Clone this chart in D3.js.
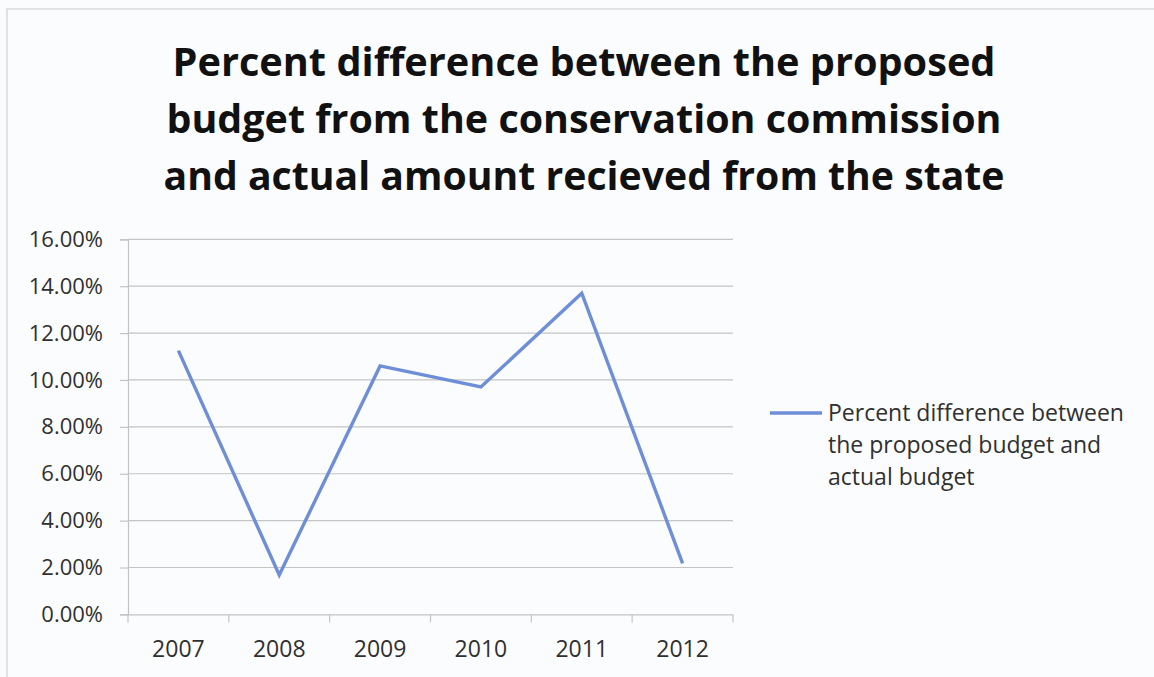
<!DOCTYPE html>
<html>
<head>
<meta charset="utf-8">
<script src="https://cdn.jsdelivr.net/npm/d3@7"></script>
<style>
  html, body { margin: 0; padding: 0; background: #ffffff; }
  svg { display: block; }
</style>
</head>
<body>
<svg id="chart" width="1154" height="677"></svg>
<script>
// Budget gap between the commission's proposal and the state allocation
const years = ["2007", "2008", "2009", "2010", "2011", "2012"];
const percentDiff = [0.1125, 0.0168, 0.106, 0.097, 0.137, 0.0218];
const yTicks = [0, 0.02, 0.04, 0.06, 0.08, 0.10, 0.12, 0.14, 0.16];
const titleLines = [
  "Percent difference between the proposed",
  "budget from the conservation commission",
  "and actual amount recieved from the state"
];
const legendLines = [
  "Percent difference between",
  "the proposed budget and",
  "actual budget"
];

const W = 1154, H = 677;
const margin = { left: 128, right: 733, top: 239.3, bottom: 614.4 };
const lineColor = "#6f8ed8";
const textColor = "#303030";
const font = "'Open Sans', 'Noto Sans', sans-serif";

const svg = d3.select("#chart");

// Chart area background and frame
svg.append("rect").attr("x", 0).attr("y", 0).attr("width", W).attr("height", H).attr("fill", "#fbfcfd");
svg.append("path")
  .attr("d", `M7,${H} L7,9 L${W},9`)
  .attr("fill", "none").attr("stroke", "#d9d9d9").attr("stroke-width", 1.5);

// Title (condensed to the width of a narrow bold face)
svg.append("g").selectAll("text").data(titleLines).join("text")
  .attr("x", 584)
  .attr("y", (d, i) => 76 + i * 57)
  .attr("text-anchor", "middle")
  .attr("font-family", font)
  .attr("font-weight", 700)
  .attr("font-size", 40)
  .attr("fill", "#111")
  .attr("textLength", (d, i) => [823, 835, 841][i])
  .attr("lengthAdjust", "spacingAndGlyphs")
  .text(d => d);

// Scales
const x = d3.scaleBand().domain(years).range([margin.left, margin.right]);
const y = d3.scaleLinear().domain([0, 0.16]).range([margin.bottom, margin.top]);

// Horizontal gridlines
svg.append("g").selectAll("line").data(yTicks.filter(t => t > 0)).join("line")
  .attr("x1", margin.left).attr("x2", margin.right)
  .attr("y1", d => y(d)).attr("y2", d => y(d))
  .attr("stroke", "#c4c4c4").attr("stroke-width", 1.2);

// Y axis
const yAxis = svg.append("g")
  .attr("transform", `translate(${margin.left},0)`)
  .call(d3.axisLeft(y).tickValues(yTicks).tickFormat(d3.format(".2%")).tickSize(8).tickPadding(17));
yAxis.select(".domain").attr("stroke", "#c4c4c4").attr("stroke-width", 1.2);
yAxis.selectAll(".tick line").attr("stroke", "#c4c4c4").attr("stroke-width", 1.2);
yAxis.selectAll(".tick text")
  .attr("font-family", font).attr("font-size", 22).attr("fill", textColor);

// X axis with tick marks on category boundaries
const xAxis = svg.append("g")
  .attr("transform", `translate(0,${margin.bottom})`)
  .call(d3.axisBottom(x).tickSize(0).tickPadding(26));
xAxis.select(".domain").attr("stroke", "#c4c4c4").attr("stroke-width", 1.2);
xAxis.selectAll(".tick text")
  .attr("font-family", font).attr("font-size", 23).attr("fill", textColor);
xAxis.selectAll("line.boundary").data(years.concat(["end"])).join("line")
  .attr("class", "boundary")
  .attr("x1", (d, i) => margin.left + i * x.step())
  .attr("x2", (d, i) => margin.left + i * x.step())
  .attr("y1", 0).attr("y2", 8)
  .attr("stroke", "#c4c4c4").attr("stroke-width", 1.2);

// Data line
const line = d3.line()
  .x((d, i) => x(years[i]) + x.bandwidth() / 2)
  .y(d => y(d));
svg.append("path")
  .datum(percentDiff)
  .attr("d", line)
  .attr("fill", "none")
  .attr("stroke", lineColor)
  .attr("stroke-width", 3.4)
  .attr("stroke-linejoin", "miter");

// Legend
const legend = svg.append("g");
legend.append("line")
  .attr("x1", 770).attr("x2", 822).attr("y1", 413).attr("y2", 413)
  .attr("stroke", lineColor).attr("stroke-width", 3.4);
legend.selectAll("text").data(legendLines).join("text")
  .attr("x", 828)
  .attr("y", (d, i) => 421 + i * 32)
  .attr("font-family", font).attr("font-size", 23).attr("fill", textColor)
  .text(d => d);
</script>
</body>
</html>
